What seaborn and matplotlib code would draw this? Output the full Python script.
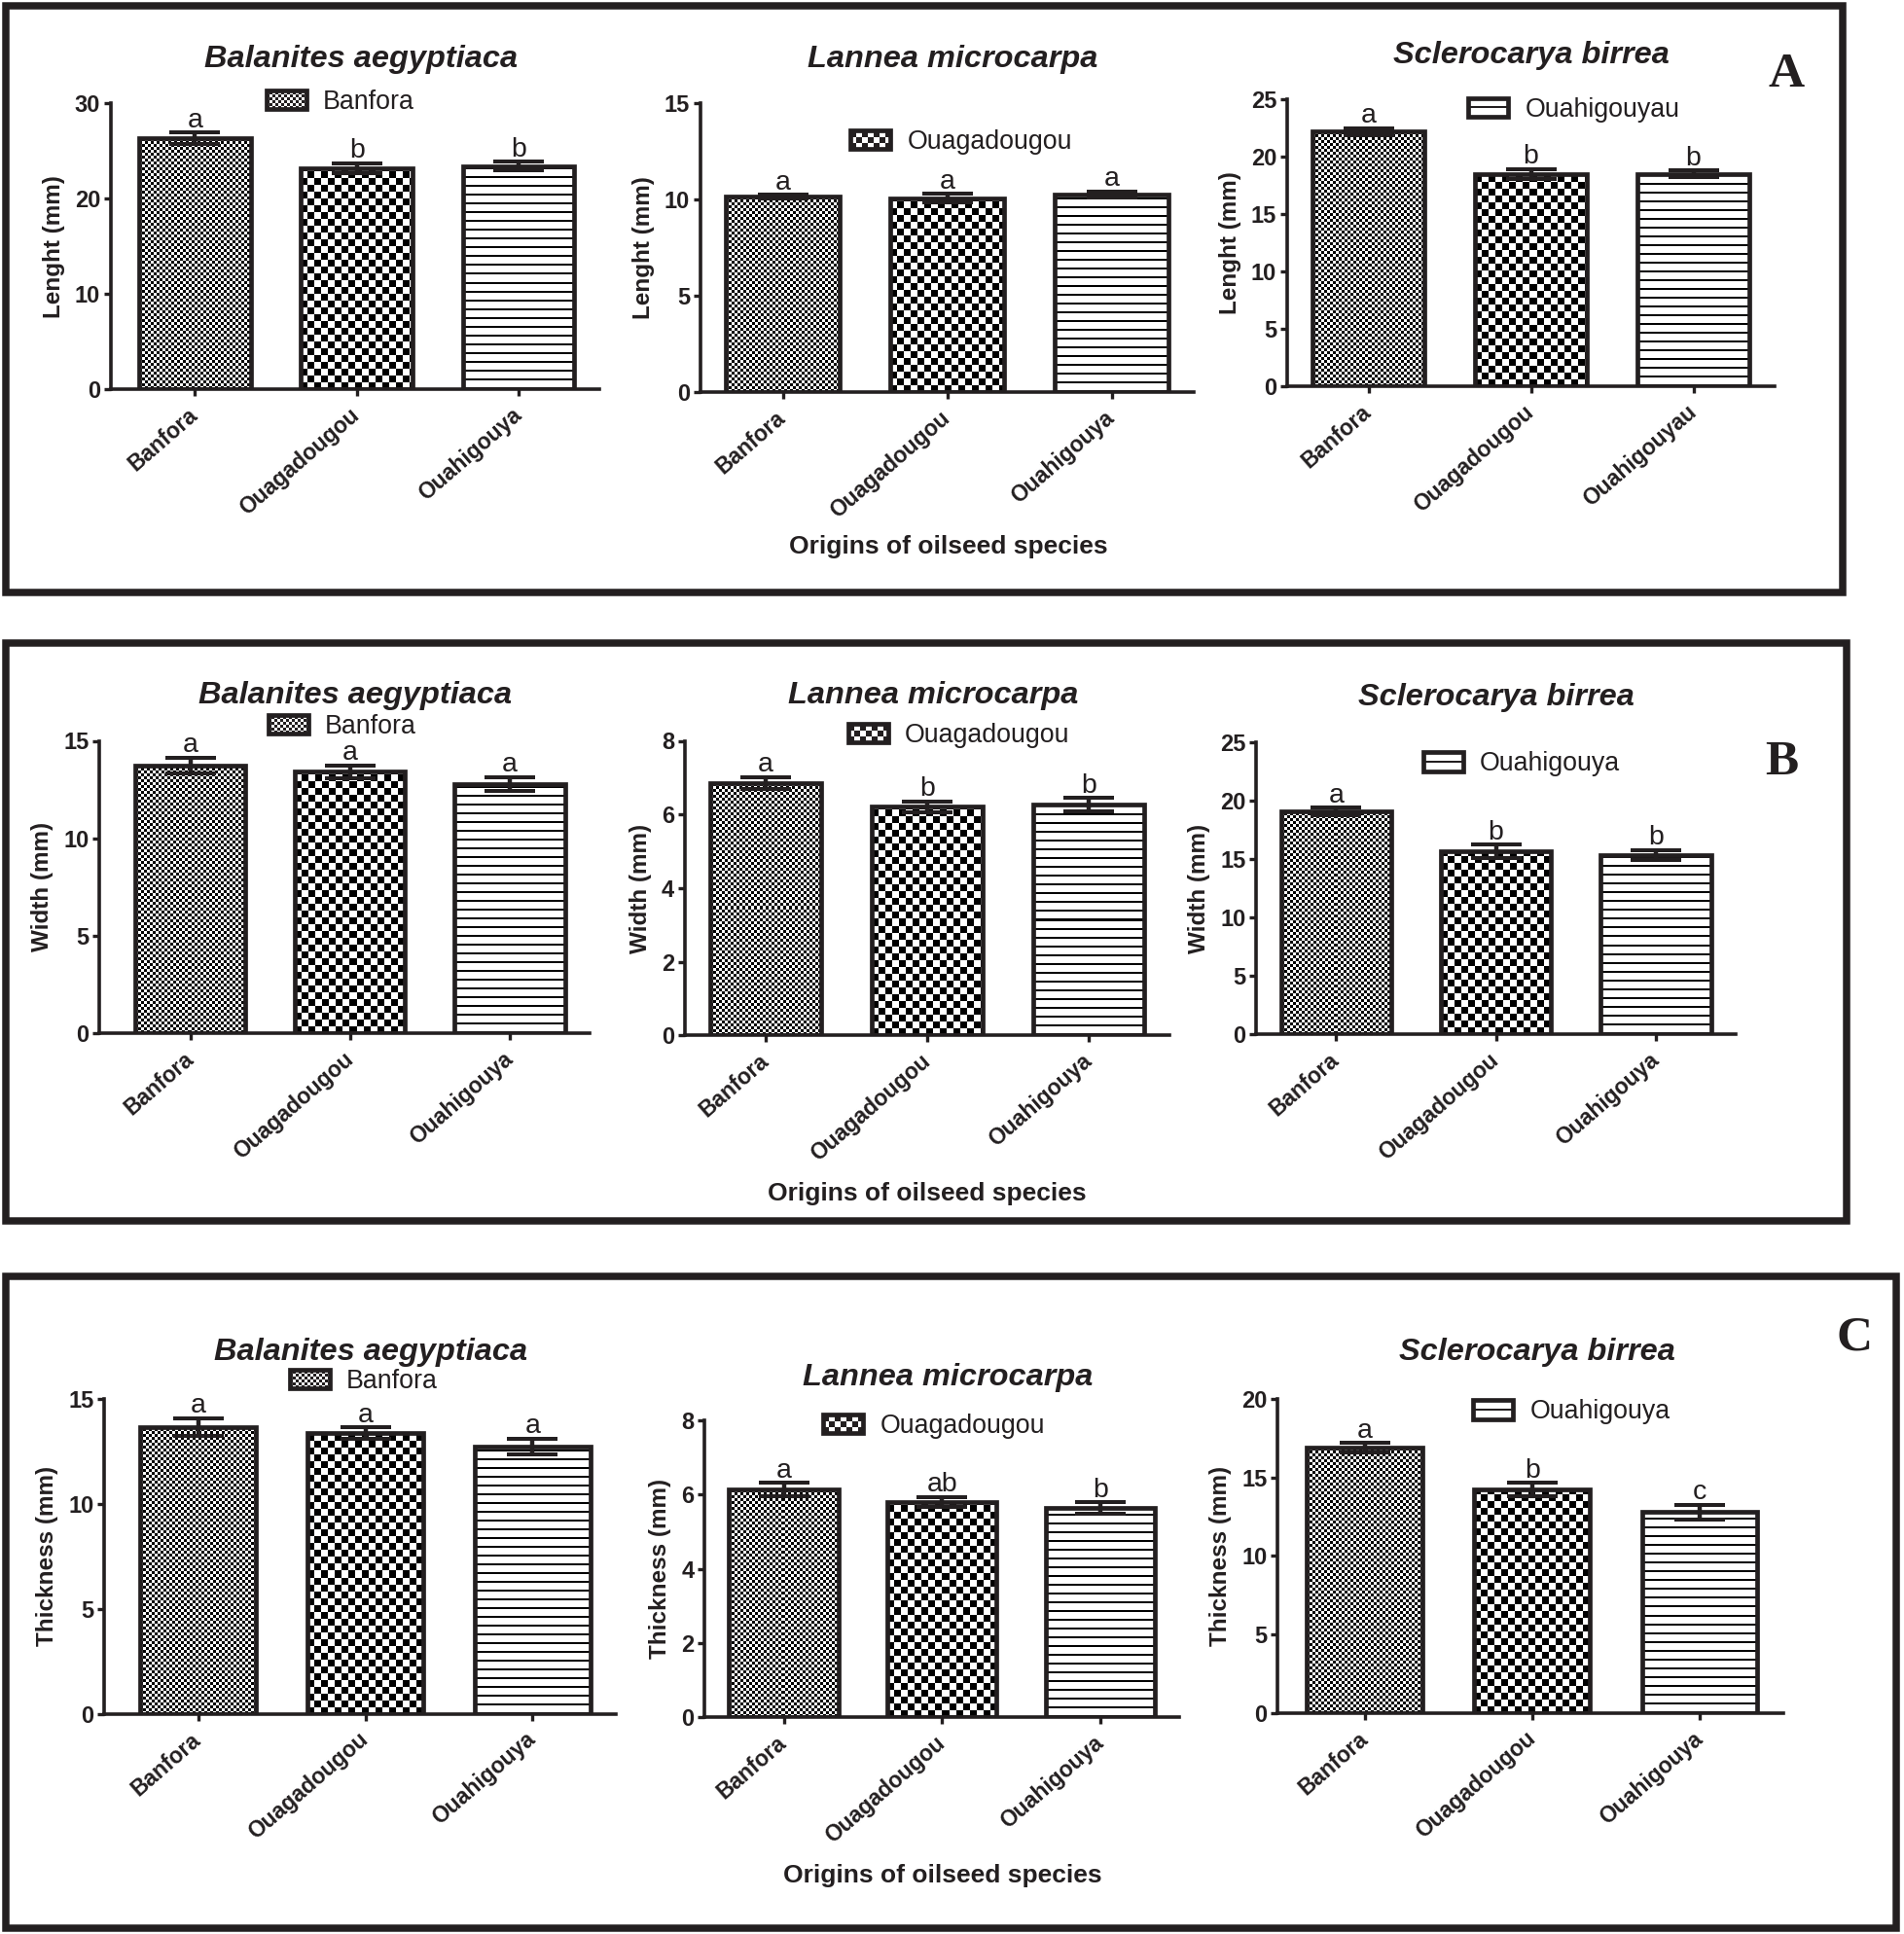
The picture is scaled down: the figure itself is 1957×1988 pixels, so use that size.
import numpy as np
import matplotlib
matplotlib.use("Agg")
import matplotlib.pyplot as plt
from matplotlib.patches import Rectangle, Patch
from matplotlib.legend_handler import HandlerBase
import seaborn as sns

# Values (mean and error bar per origin)
species = ["Balanites aegyptiaca", "Lannea microcarpa", "Sclerocarya birrea"]
origins = ["Banfora", "Ouagadougou", "Ouahigouya"]
origins_a = ["Banfora", "Ouagadougou", "Ouahigouyau"]   # spelling used in panel A, S. birrea
legend_a = ["Banfora", "Ouagadougou", "Ouahigouyau"]
legend_bc = ["Banfora", "Ouagadougou", "Ouahigouya"]

length_means = [[26.3, 23.2, 23.4], [10.14, 10.08, 10.27], [22.2, 18.5, 18.5]]
length_errs = [[0.6, 0.5, 0.45], [0.1, 0.22, 0.14], [0.3, 0.42, 0.3]]
length_letters = [["a", "b", "b"], ["a", "a", "a"], ["a", "b", "b"]]

width_means = [[13.72, 13.42, 12.77], [6.85, 6.21, 6.27], [19.05, 15.65, 15.32]]
width_errs = [[0.41, 0.33, 0.36], [0.17, 0.14, 0.18], [0.33, 0.55, 0.45]]
width_letters = [["a", "a", "a"], ["a", "b", "b"], ["a", "b", "b"]]

thick_means = [[13.68, 13.37, 12.74], [6.13, 5.8, 5.63], [16.9, 14.23, 12.8]]
thick_errs = [[0.42, 0.28, 0.37], [0.18, 0.14, 0.16], [0.3, 0.42, 0.45]]
thick_letters = [["a", "a", "a"], ["a", "ab", "b"], ["a", "b", "c"]]

ylims = [[30, 15, 25], [15, 8, 25], [15, 8, 20]]
ysteps = [[10, 5, 5], [5, 2, 5], [5, 2, 5]]

W, H = 1957, 1988
INK = "#231f20"

sns.set_style("ticks")
plt.rcParams["font.family"] = ["Liberation Sans", "DejaVu Sans"]
plt.rcParams["font.weight"] = "bold"


def fx(x):
    return x / W


def fy(y):
    return 1 - y / H


# bar textures: fine checker, coarse checker, horizontal lines
def texture(kind, nx, ny):
    yy, xx = np.mgrid[0:ny, 0:nx]
    if kind == 2:
        return np.where(yy % 9 < 2, 0.0, 1.0)
    cell = 3 if kind == 0 else 7
    return ((xx // cell + yy // cell) % 2).astype(float)


class SwatchHandler(HandlerBase):
    def __init__(self, kind):
        super().__init__()
        self.kind = kind

    def create_artists(self, legend, orig_handle, xdescent, ydescent, width, height, fontsize, trans):
        x0, y0 = -xdescent, -ydescent
        px = 0.72
        arts = [Rectangle((x0, y0), width, height, facecolor="white", edgecolor="none", transform=trans)]
        if self.kind < 2:
            cell = (3 if self.kind == 0 else 6) * px
            nx, ny = int(np.ceil(width / cell)), int(np.ceil(height / cell))
            for i in range(nx):
                for j in range(ny):
                    if (i + j) % 2 == 0:
                        w = min(cell, width - i * cell)
                        h = min(cell, height - j * cell)
                        arts.append(Rectangle((x0 + i * cell, y0 + j * cell), w, h, facecolor=INK,
                                              edgecolor="none", transform=trans))
        else:
            arts.append(Rectangle((x0, y0 + height / 2 - px), width, 2 * px, facecolor=INK,
                                  edgecolor="none", transform=trans))
        arts.append(Rectangle((x0, y0), width, height, facecolor="none", edgecolor=INK,
                              linewidth=3.4, transform=trans))
        return arts


def fill_bars(ax):
    for k, bar in enumerate(ax.patches):
        bb = bar.get_window_extent()
        nx, ny = max(int(round(bb.width)), 1), max(int(round(bb.height)), 1)
        x0, y0 = bar.get_x(), bar.get_y()
        ax.imshow(texture(k, nx, ny), cmap="gray", vmin=0, vmax=1, origin="lower",
                  interpolation="nearest", aspect="auto", zorder=0.9,
                  extent=(x0, x0 + bar.get_width(), y0, y0 + bar.get_height()))
        bar.set_facecolor("none")
        bar.set_zorder(1.5)


fig = plt.figure(figsize=(W / 100, H / 100), dpi=100)

# panel frames (left, top, right, bottom), px
frames = [(5.75, 5.75, 1894.25, 609.25), (5.75, 660.5, 1898.25, 1255), (5.75, 1311.5, 1949.25, 1982)]
for l, t, r, b in frames:
    fig.add_artist(Rectangle((fx(l), fy(b)), fx(r) - fx(l), fy(t) - fy(b), transform=fig.transFigure,
                             fill=False, linewidth=5.4, edgecolor=INK))

# axes boxes (left, top, right, bottom) px and left x-limit
boxes = [
    [(114, 106, 616, 400.2, -0.52), (720, 106, 1227, 403.3, -0.5), (1323, 102, 1824, 397.4, -0.5)],
    [(102.3, 761.5, 606, 1062, -0.57), (704, 761.5, 1202, 1064.4, -0.5), (1291.2, 762.7, 1784, 1063.2, -0.5)],
    [(107.3, 1438.2, 633.4, 1761.6, -0.56), (724.2, 1460, 1212.4, 1765.1, -0.5), (1313.2, 1438.2, 1833, 1760.7, -0.52)],
]
titles_px = [[(371, 61), (979, 61), (1574, 57)],
             [(365, 715), (959, 715), (1538, 717)],
             [(381, 1390), (974, 1416), (1580, 1390)]]
legend_px = [[(273.6, 105), (874.4, 145.7), (1508.9, 112.7)],
             [(275.7, 747), (871.5, 756), (1462.7, 785.4)],
             [(297.6, 1420), (846.2, 1465.7), (1514.3, 1451.4)]]
xlabel_px = [(974.6, 561.5), (953, 1227.3), (968.9, 1927.5)]
letter_px = [(1836, 89), (1831, 796), (1906.5, 1387)]

panels = [
    ("Lenght (mm)", length_means, length_errs, length_letters, [origins, origins, origins_a], legend_a),
    ("Width (mm)", width_means, width_errs, width_letters, [origins, origins, origins], legend_bc),
    ("Thickness (mm)", thick_means, thick_errs, thick_letters, [origins, origins, origins], legend_bc),
]

for r, (ylab, means, errs, letters, ticklabels, leg) in enumerate(panels):
    for c in range(3):
        l, t, rgt, b, xlo = boxes[r][c]
        ax = fig.add_axes([fx(l), fy(b), fx(rgt) - fx(l), fy(t) - fy(b)])
        ax.patch.set_alpha(0)
        sns.barplot(x=ticklabels[c], y=means[c], ax=ax, color="white", edgecolor=INK,
                    linewidth=3.4, width=0.69, errorbar=None)
        ymax = ylims[r][c]
        ax.set_ylim(0, ymax)
        ax.set_xlim(xlo, 2.5)
        fill_bars(ax)
        ax.set_xlim(xlo, 2.5)
        ax.set_ylim(0, ymax)

        xs = [p.get_x() + p.get_width() / 2 for p in ax.patches]
        ax.errorbar(xs, means[c], yerr=errs[c], fmt="none", ecolor=INK, elinewidth=3.2,
                    capsize=19, capthick=2.9, zorder=3)
        for x, m, e, s in zip(xs, means[c], errs[c], letters[c]):
            ax.annotate(s, (x, m + e), xytext=(0, 4), textcoords="offset points",
                        ha="center", va="baseline", fontsize=20.5, fontweight="normal", color=INK)

        sns.despine(ax=ax)
        for side in ("left", "bottom"):
            ax.spines[side].set_linewidth(2.6)
            ax.spines[side].set_color(INK)
        ax.tick_params(axis="both", width=2.4, color=INK, labelcolor=INK, direction="out")
        ax.tick_params(axis="y", length=4.8, pad=3)
        ax.tick_params(axis="x", length=5, pad=12)
        yt = np.arange(0, ymax + 0.1, ysteps[r][c])
        ax.set_yticks(yt, labels=[f"{v:g}" for v in yt], fontsize=17, fontweight="bold")
        ax.set_xticks(xs, labels=ticklabels[c], fontsize=16.5, fontweight="bold", rotation=41,
                      ha="right", va="center", rotation_mode="anchor")
        ax.set_xlabel("")
        ax.set_ylabel(ylab, fontsize=17.5, fontweight="bold", color=INK, labelpad=7)

        handle = Patch(label=leg[c])
        lx, ly = legend_px[r][c]
        ax.legend(handles=[handle], handler_map={handle: SwatchHandler(c)}, loc="center left",
                  bbox_to_anchor=(fx(lx), fy(ly)), bbox_transform=fig.transFigure, frameon=False,
                  prop={"size": 19.3, "weight": "normal"}, labelcolor=INK, handlelength=1.53,
                  handleheight=0.75, handletextpad=0.65, borderpad=0, borderaxespad=0)

        tx, ty = titles_px[r][c]
        fig.text(fx(tx), fy(ty), species[c], ha="center", va="center", fontsize=23.4,
                 fontweight="bold", fontstyle="italic", color=INK)

    xx, xy = xlabel_px[r]
    fig.text(fx(xx), fy(xy), "Origins of oilseed species", ha="center", va="center",
             fontsize=19, fontweight="bold", color=INK)
    px_, py_ = letter_px[r]
    fig.text(fx(px_), fy(py_), "ABC"[r], ha="center", va="baseline", fontsize=37,
             fontweight="bold", family="Liberation Serif", color=INK)

fig.savefig("out.png", dpi=100)
